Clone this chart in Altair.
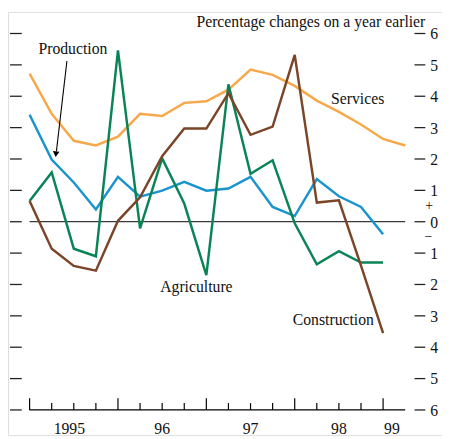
import altair as alt
import pandas as pd

# ---------------- data ----------------
n_services = 18
quarters = [1995 + i / 4 for i in range(n_services)]  # 1995Q1 .. 1999Q2
services = [4.72, 3.44, 2.58, 2.43, 2.71, 3.44, 3.37, 3.79, 3.84, 4.21,
            4.85, 4.68, 4.33, 3.86, 3.50, 3.10, 2.64, 2.43]
production = [3.41, 1.98, 1.25, 0.39, 1.43, 0.80, 0.99, 1.27, 0.99, 1.06,
              1.43, 0.47, 0.18, 1.36, 0.81, 0.47, -0.40]
agriculture = [0.66, 1.57, -0.86, -1.10, 5.46, -0.21, 2.02, 0.58, -1.70, 4.38,
               1.53, 1.96, -0.05, -1.36, -0.94, -1.30, -1.30]
construction = [0.66, -0.86, -1.41, -1.56, 0.03, 0.78, 2.09, 2.97, 2.97, 4.10,
                2.77, 3.03, 5.32, 0.61, 0.68, -1.40, -3.55]

series_names = ["Services", "Production", "Agriculture", "Construction"]
series_colors = ["#F7A84B", "#1A94CC", "#0A8457", "#7A4529"]

year_ticks = [1995, 1996, 1997, 1998, 1999]
year_labels = ["1995", "96", "97", "98", "99"]
y_ticks = list(range(-6, 7))
title_text = "Percentage changes on a year earlier"

# ---------------- geometry ----------------
W, H = 442, 431
PX_YEAR = 90.0
PX_UNIT = 31.95
X0 = 1995 - 22 / PX_YEAR
X1 = X0 + W / PX_YEAR
Y1 = (221.7 - 8) / PX_UNIT
Y0 = Y1 - H / PX_UNIT


def px_x(p):  # page pixel -> year value
    return 1995 + (p - 30) / PX_YEAR


def px_y(p):  # page pixel -> data value
    return (221.7 - p) / PX_UNIT


xs = alt.Scale(domain=[X0, X1], nice=False, zero=False)
ys = alt.Scale(domain=[Y0, Y1], nice=False, zero=False)
FONT = "Liberation Serif"
FS = 16
TXT = "#111"

rows = []
for name, vals in zip(series_names, [services, production, agriculture, construction]):
    for i, v in enumerate(vals):
        rows.append({"series": name, "x": quarters[i], "v": v})
df = pd.DataFrame(rows)

lines = alt.Chart(df).mark_line(strokeWidth=2.5).encode(
    x=alt.X("x:Q", scale=xs, axis=None),
    y=alt.Y("v:Q", scale=ys, axis=None),
    color=alt.Color("series:N", scale=alt.Scale(domain=series_names, range=series_colors), legend=None),
    order="x:Q",
)

# zero line
zero = alt.Chart(pd.DataFrame({"x": [1995], "x2": [quarters[-1]], "y": [0]})).mark_rule(
    color="#3a3a3a", strokeWidth=1.3
).encode(x=alt.X("x:Q", scale=xs, axis=None), x2="x2:Q", y=alt.Y("y:Q", scale=ys, axis=None))

# x axis line
xline = alt.Chart(pd.DataFrame({"x": [1995], "x2": [quarters[-1]], "y": [-6]})).mark_rule(
    color="black", strokeWidth=1.2
).encode(x=alt.X("x:Q", scale=xs, axis=None), x2="x2:Q", y=alt.Y("y:Q", scale=ys, axis=None))

# x ticks (pointing up)
tick_rows = []
for q in quarters[:-1]:
    major = abs(q - round(q)) < 1e-9
    tick_rows.append({"x": q, "y": -6, "y2": -6 + (12 if major else 7) / PX_UNIT})
xticks = alt.Chart(pd.DataFrame(tick_rows)).mark_rule(color="black", strokeWidth=1.2).encode(
    x=alt.X("x:Q", scale=xs, axis=None), y=alt.Y("y:Q", scale=ys, axis=None), y2="y2:Q"
)

# x labels
xl = pd.DataFrame({"x": [1995.45, 1996.5, 1997.5, 1998.5, 1999.1],
                   "y": [px_y(433)] * 5, "t": year_labels})
xlabels = alt.Chart(xl).mark_text(font=FONT, fontSize=FS, color=TXT, baseline="middle", align="center").encode(
    x=alt.X("x:Q", scale=xs, axis=None), y=alt.Y("y:Q", scale=ys, axis=None), text="t:N"
)

# y dashes left and right
dash_rows = []
for t in y_ticks:
    dash_rows.append({"x": px_x(10), "x2": px_x(22), "y": t})
    dash_rows.append({"x": px_x(422), "x2": px_x(433), "y": t})
ydash = alt.Chart(pd.DataFrame(dash_rows)).mark_rule(color="#222", strokeWidth=1.3).encode(
    x=alt.X("x:Q", scale=xs, axis=None), x2="x2:Q", y=alt.Y("y:Q", scale=ys, axis=None)
)

# right labels (absolute values)
yl = pd.DataFrame({"x": [px_x(438)] * len(y_ticks), "y": y_ticks, "t": [str(abs(t)) for t in y_ticks]})
ylabels = alt.Chart(yl).mark_text(font=FONT, fontSize=FS, color=TXT, align="left", baseline="middle", dy=1).encode(
    x=alt.X("x:Q", scale=xs, axis=None), y=alt.Y("y:Q", scale=ys, axis=None), text="t:N"
)

# +/- signs
sg = pd.DataFrame({"x": [px_x(437), px_x(436)], "y": [px_y(206), px_y(237)], "t": ["+", "\u2212"]})
signs = alt.Chart(sg).mark_text(font=FONT, fontSize=14, color=TXT, align="center", baseline="middle").encode(
    x=alt.X("x:Q", scale=xs, axis=None), y=alt.Y("y:Q", scale=ys, axis=None), text="t:N"
)

# annotations
ann = pd.DataFrame({
    "x": [px_x(433), px_x(39), px_x(337), px_x(163), px_x(298)],
    "y": [px_y(18), px_y(46), px_y(97), px_y(288), px_y(322)],
    "t": [title_text, "Production", "Services", "Agriculture", "Construction"],
    "a": ["right", "left", "left", "left", "left"],
})
ann_r = alt.Chart(ann[ann.a == "right"]).mark_text(font=FONT, fontSize=FS, color=TXT, align="right", baseline="middle").encode(
    x=alt.X("x:Q", scale=xs, axis=None), y=alt.Y("y:Q", scale=ys, axis=None), text="t:N"
)
ann_l = alt.Chart(ann[ann.a == "left"]).mark_text(font=FONT, fontSize=FS, color=TXT, align="left", baseline="middle").encode(
    x=alt.X("x:Q", scale=xs, axis=None), y=alt.Y("y:Q", scale=ys, axis=None), text="t:N"
)

# arrow
arr = pd.DataFrame({"x": [px_x(68)], "y": [px_y(58)], "x2": [px_x(57.3)], "y2": [px_y(150)]})
arrow_line = alt.Chart(arr).mark_rule(color="black", strokeWidth=1.1).encode(
    x=alt.X("x:Q", scale=xs, axis=None), y=alt.Y("y:Q", scale=ys, axis=None), x2="x2:Q", y2="y2:Q"
)
head = pd.DataFrame({"x": [px_x(56.8)], "y": [px_y(153)]})
arrow_head = alt.Chart(head).mark_point(shape="triangle-down", filled=True, color="black", size=45, angle=6, opacity=1).encode(
    x=alt.X("x:Q", scale=xs, axis=None), y=alt.Y("y:Q", scale=ys, axis=None)
)

chart = alt.layer(
    zero, lines, xline, xticks, xlabels, ydash, ylabels, signs, ann_r, ann_l, arrow_line, arrow_head
).properties(
    width=W, height=H, autosize=alt.AutoSizeParams(type="none"), padding=0
).configure_view(stroke=None).configure(background="white")

chart.save("out.html", embed_options={"renderer": "svg", "actions": False})
